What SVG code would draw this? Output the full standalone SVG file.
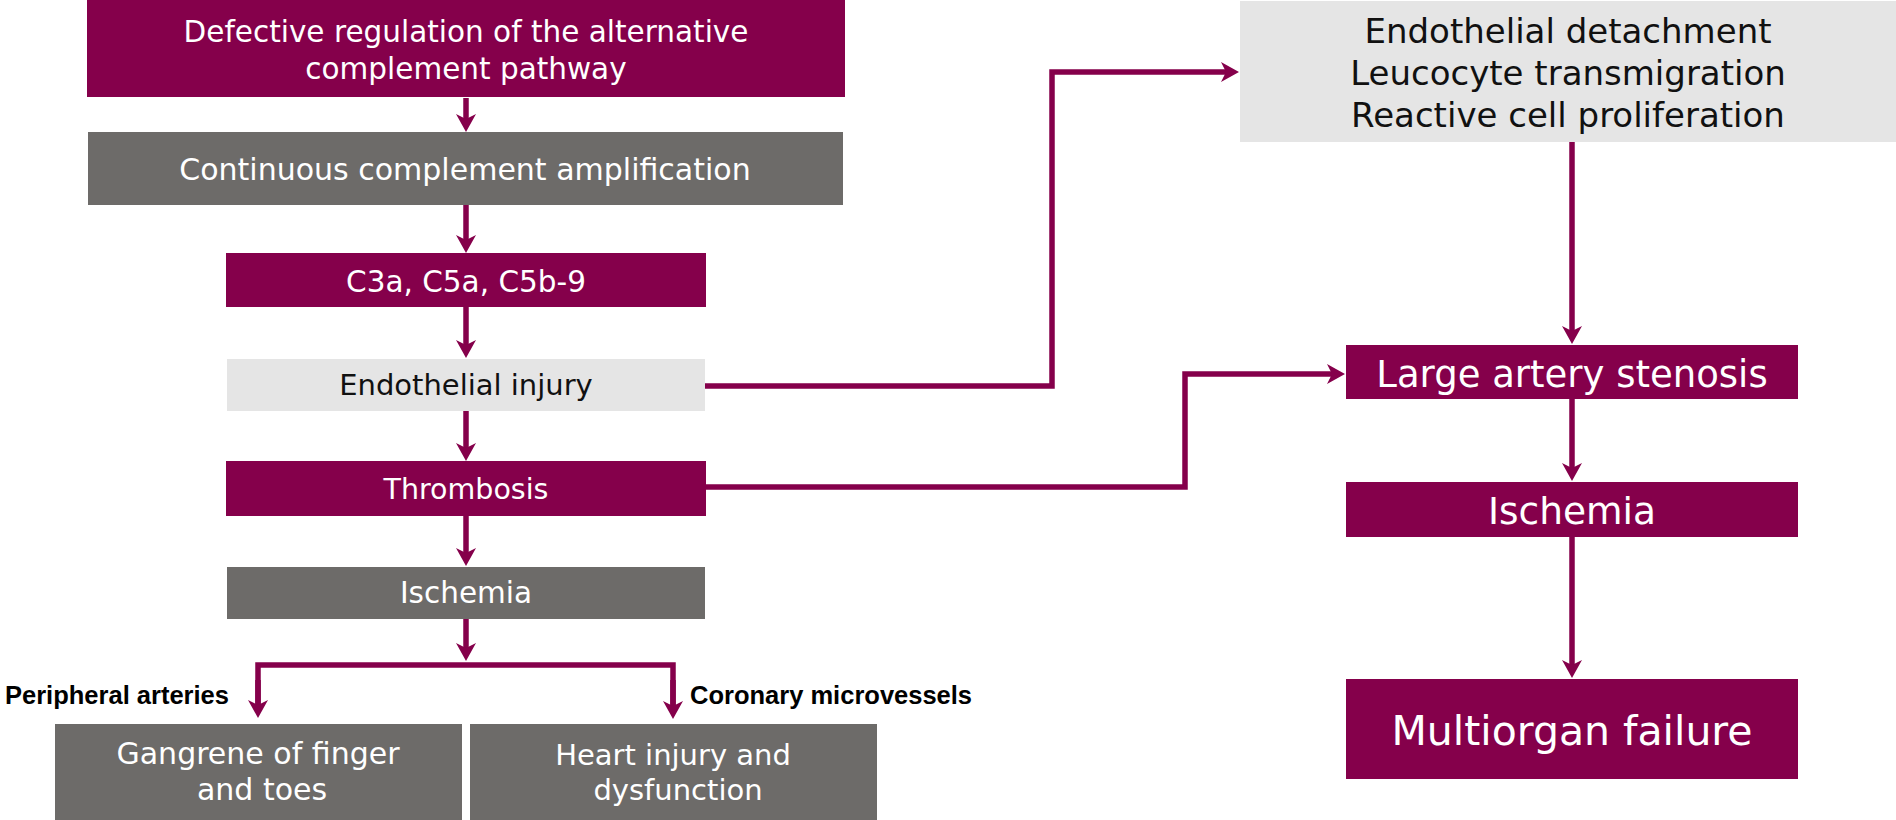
<svg xmlns="http://www.w3.org/2000/svg" width="1896" height="820" viewBox="0 0 1896 820">
  <style>
    .wine { fill: #85004B; }
    .slate { fill: #6D6B69; }
    .pale { fill: #E5E5E5; }
    text { font-family: "DejaVu Sans", "Liberation Sans", sans-serif; text-anchor: middle; }
    .lt { fill: #FFFFFF; }
    .dk { fill: #111111; }
    .tag { font-family: "Liberation Sans", Arial, sans-serif; font-weight: bold; font-size: 25.5px; fill: #000000; text-anchor: start; }
    .link { fill: none; stroke: #85004B; stroke-width: 5.5; stroke-linejoin: miter; }
  </style>
  <defs>
    <marker id="head" markerUnits="userSpaceOnUse" viewBox="0 -11 19 22" refX="5" refY="0" markerWidth="19" markerHeight="22" orient="auto">
      <path d="M0,-10 L18,0 L0,10 L5,0 Z" fill="#85004B"/>
    </marker>
  </defs>

  <!-- connectors -->
  <g id="connectors">
    <path class="link" d="M466,98 V119" marker-end="url(#head)"/>
    <path class="link" d="M466,205 V240" marker-end="url(#head)"/>
    <path class="link" d="M466,307 V345" marker-end="url(#head)"/>
    <path class="link" d="M466,411 V448" marker-end="url(#head)"/>
    <path class="link" d="M466,516 V553" marker-end="url(#head)"/>
    <path class="link" d="M466,619 V648" marker-end="url(#head)"/>
    <path class="link" d="M258,704 V665 H673 V706"/>
    <path class="link" d="M258,680 V705" marker-end="url(#head)"/>
    <path class="link" d="M673,680 V706" marker-end="url(#head)"/>
    <path class="link" d="M705,386 H1052 V72 H1226" marker-end="url(#head)"/>
    <path class="link" d="M706,487 H1185 V374 H1332" marker-end="url(#head)"/>
    <path class="link" d="M1572,142 V331" marker-end="url(#head)"/>
    <path class="link" d="M1572,399 V468" marker-end="url(#head)"/>
    <path class="link" d="M1572,537 V665" marker-end="url(#head)"/>
  </g>

  <!-- left column -->
  <g id="defective-regulation">
    <rect class="wine" x="87" y="0" width="758" height="97"/>
    <text class="lt" x="466" y="42" font-size="29.5">Defective regulation of the alternative</text>
    <text class="lt" x="466" y="79" font-size="29.5">complement pathway</text>
  </g>
  <g id="complement-amplification">
    <rect class="slate" x="88" y="132" width="755" height="73"/>
    <text class="lt" x="465" y="180" font-size="30">Continuous complement amplification</text>
  </g>
  <g id="anaphylatoxins">
    <rect class="wine" x="226" y="253" width="480" height="54"/>
    <text class="lt" x="466" y="292" font-size="29.5">C3a, C5a, C5b-9</text>
  </g>
  <g id="endothelial-injury">
    <rect class="pale" x="227" y="359" width="478" height="52"/>
    <text class="dk" x="466" y="395" font-size="29">Endothelial injury</text>
  </g>
  <g id="thrombosis">
    <rect class="wine" x="226" y="461" width="480" height="55"/>
    <text class="lt" x="466" y="499" font-size="28.5">Thrombosis</text>
  </g>
  <g id="ischemia-left">
    <rect class="slate" x="227" y="567" width="478" height="52"/>
    <text class="lt" x="466" y="603" font-size="29.5">Ischemia</text>
  </g>

  <!-- branch labels -->
  <g id="branch-labels">
    <text class="tag" x="5" y="704">Peripheral arteries</text>
    <text class="tag" x="690" y="704">Coronary microvessels</text>
  </g>

  <g id="gangrene">
    <rect class="slate" x="55" y="724" width="407" height="96"/>
    <text class="lt" x="258" y="764" font-size="30">Gangrene of finger</text>
    <text class="lt" x="262" y="800" font-size="30">and toes</text>
  </g>
  <g id="heart-injury">
    <rect class="slate" x="470" y="724" width="407" height="96"/>
    <text class="lt" x="673" y="765" font-size="29">Heart injury and</text>
    <text class="lt" x="678" y="800" font-size="29">dysfunction</text>
  </g>

  <!-- right column -->
  <g id="vascular-remodelling">
    <rect class="pale" x="1240" y="1" width="656" height="141"/>
    <text class="dk" x="1568" y="43" font-size="34">Endothelial detachment</text>
    <text class="dk" x="1568" y="85" font-size="34">Leucocyte transmigration</text>
    <text class="dk" x="1568" y="127" font-size="34">Reactive cell proliferation</text>
  </g>
  <g id="large-artery-stenosis">
    <rect class="wine" x="1346" y="345" width="452" height="54"/>
    <text class="lt" x="1572" y="387" font-size="37">Large artery stenosis</text>
  </g>
  <g id="ischemia-right">
    <rect class="wine" x="1346" y="482" width="452" height="55"/>
    <text class="lt" x="1572" y="524" font-size="37.5">Ischemia</text>
  </g>
  <g id="multiorgan-failure">
    <rect class="wine" x="1346" y="679" width="452" height="100"/>
    <text class="lt" x="1572" y="745" font-size="41">Multiorgan failure</text>
  </g>
</svg>
